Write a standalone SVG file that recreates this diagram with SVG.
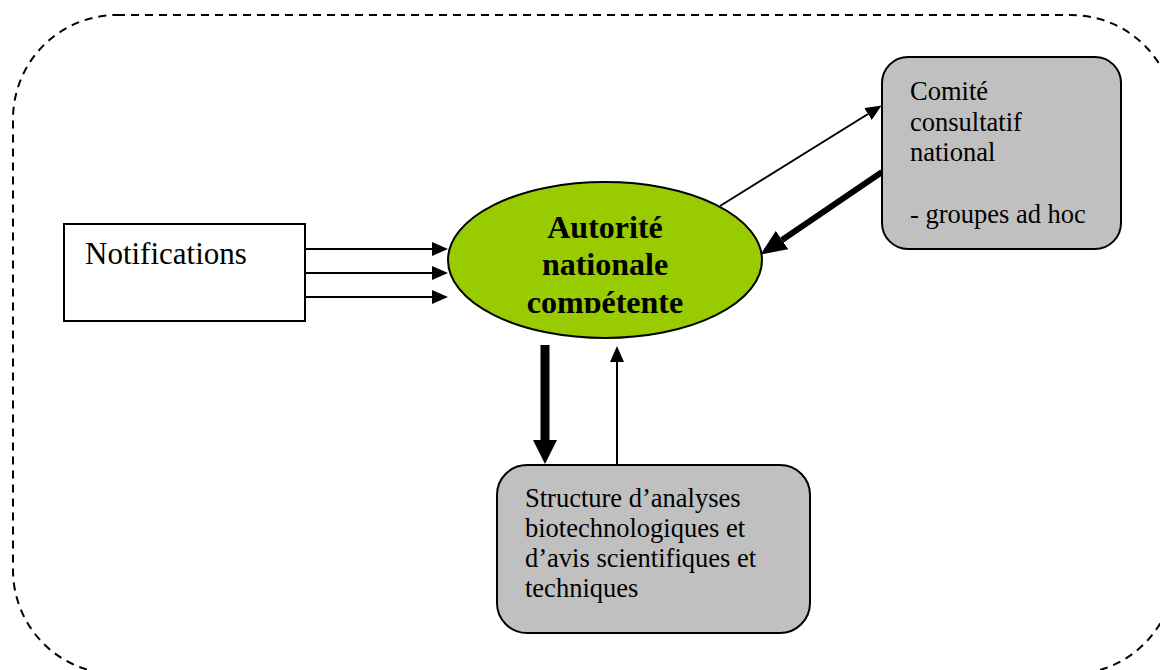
<svg xmlns="http://www.w3.org/2000/svg" width="1160" height="670" viewBox="0 0 1160 670">
<style>
.t{font-family:"Liberation Serif","Times New Roman",serif;fill:#000}
.box{stroke:#000;stroke-width:2}
.thin{stroke:#000;stroke-width:2;fill:none}
</style>
<defs>
<marker id="ah" markerUnits="userSpaceOnUse" markerWidth="16" markerHeight="14" refX="0" refY="7" orient="auto">
<path d="M0,0 L16,7 L0,14 z" fill="#000"/>
</marker>
<marker id="ahBig" markerUnits="userSpaceOnUse" markerWidth="26" markerHeight="22" refX="0" refY="11" orient="auto">
<path d="M0,0 L26,11 L0,22 z" fill="#000"/>
</marker>
<clipPath id="ellClip"><rect x="440" y="180" width="330" height="133"/></clipPath>
</defs>
<rect x="13" y="15" width="1162" height="659" rx="104" ry="104" fill="none" stroke="#000" stroke-width="2" stroke-dasharray="8,6"/>
<g id="connectors">
<line class="thin" x1="305" y1="249" x2="432" y2="249" marker-end="url(#ah)"/>
<line class="thin" x1="305" y1="273" x2="432" y2="273" marker-end="url(#ah)"/>
<line class="thin" x1="305" y1="297" x2="432" y2="297" marker-end="url(#ah)"/>
<line class="thin" x1="720" y1="206" x2="868" y2="114" marker-end="url(#ah)"/>
<line x1="882" y1="172" x2="782" y2="240" stroke="#000" stroke-width="6" marker-end="url(#ahBig)"/>
<line x1="545" y1="345" x2="545" y2="440" stroke="#000" stroke-width="9"/>
<path d="M533,440 L557,440 L545,464 z" fill="#000"/>
<line class="thin" x1="617" y1="465" x2="617" y2="362" marker-end="url(#ah)"/>
</g>
<g id="notifications">
<rect class="box" x="64" y="224" width="241" height="97" fill="#fff"/>
<text class="t" x="85" y="264" font-size="31">Notifications</text>
</g>
<g id="autorite">
<ellipse cx="605" cy="260" rx="157" ry="78" fill="#99cc00" stroke="#000" stroke-width="2"/>
<g clip-path="url(#ellClip)">
<text class="t" x="605" text-anchor="middle" font-size="32" font-weight="bold"><tspan x="605" y="238">Autorité</tspan><tspan x="605" y="275">nationale</tspan><tspan x="605" y="313">compétente</tspan></text>
</g>
</g>
<g id="comite">
<rect class="box" x="882" y="57" width="239" height="192" rx="26" ry="26" fill="#c0c0c0"/>
<text class="t" font-size="26.5"><tspan x="910" y="100">Comité</tspan><tspan x="910" y="131">consultatif</tspan><tspan x="910" y="161">national</tspan><tspan x="910" y="223">- groupes ad hoc</tspan></text>
</g>
<g id="structure">
<rect class="box" x="497" y="465" width="313" height="168" rx="30" ry="30" fill="#c0c0c0"/>
<text class="t" font-size="26.5"><tspan x="525" y="507">Structure d’analyses</tspan><tspan x="525" y="537">biotechnologiques et</tspan><tspan x="525" y="567">d’avis scientifiques et</tspan><tspan x="525" y="597">techniques</tspan></text>
</g>
</svg>
